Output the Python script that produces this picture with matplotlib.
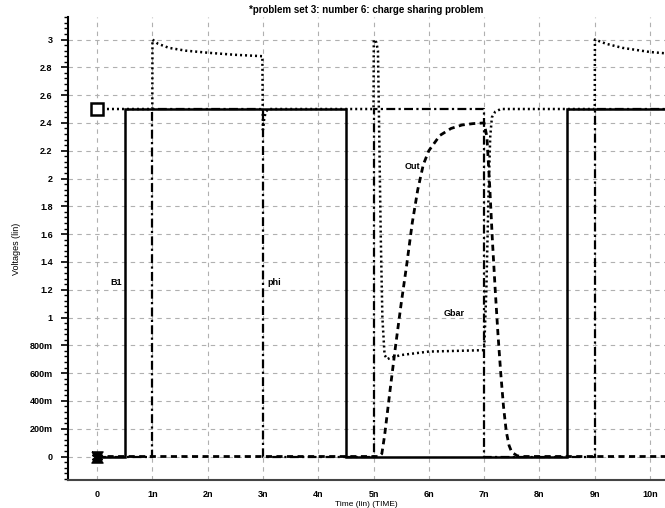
import matplotlib
matplotlib.use('Agg')
import numpy as np
import matplotlib.pyplot as plt
from matplotlib.path import Path
from matplotlib.ticker import MultipleLocator

plt.rcParams['font.family'] = ['Liberation Sans', 'DejaVu Sans']
plt.rcParams['font.weight'] = 'bold'

# transient waveforms, time in ns, voltage in V
t_b1 = [0, 0.5, 0.5, 4.5, 4.5, 8.5, 8.5, 10.3]
v_b1 = [0, 0, 2.5, 2.5, 0, 0, 2.5, 2.5]

t_phi = [0, 1, 1, 3, 3, 5, 5, 7, 7, 9, 9, 10.3]
v_phi = [0, 0, 2.5, 2.5, 0, 0, 2.5, 2.5, 0, 0, 2.5, 2.5]

t_out = [0, 5.1, 5.15, 5.2, 5.3, 5.4, 5.5, 5.6, 5.7, 5.8, 5.9, 6.0, 6.2, 6.4,
         6.6, 6.8, 7.0, 7.05, 7.1, 7.15, 7.2, 7.25, 7.3, 7.35, 7.4, 7.45,
         7.5, 7.6, 7.7, 10.3]
v_out = [0, 0, 0.02, 0.15, 0.48, 0.8, 1.1, 1.38, 1.68, 1.92, 2.1, 2.2, 2.31,
         2.36, 2.385, 2.395, 2.40, 2.3, 1.95, 1.55, 1.2, 0.88, 0.6, 0.36,
         0.18, 0.08, 0.03, 0.005, 0, 0]

t_gbar = [0, 1.0, 1.003, 1.1, 1.3, 1.6, 2.0, 2.5, 2.99, 3.0, 3.02, 3.05, 3.1,
          5.0, 5.005, 5.05, 5.08, 5.1, 5.13, 5.16, 5.2, 5.25, 5.3, 5.5, 6.0,
          6.5, 7.0, 7.04, 7.08, 7.11, 7.14, 7.2, 7.3, 9.0, 9.003, 9.2, 9.5,
          10.0, 10.3]
v_gbar = [2.5, 2.5, 3.0, 2.97, 2.94, 2.92, 2.905, 2.89, 2.88, 2.35, 2.42,
          2.48, 2.5, 2.5, 3.0, 2.98, 2.92, 2.4, 1.6, 1.0, 0.73, 0.70, 0.71,
          0.73, 0.755, 0.76, 0.765, 1.2, 1.9, 2.3, 2.44, 2.48, 2.5, 2.5, 3.0,
          2.97, 2.94, 2.91, 2.9]

x_ticks = list(range(11))
x_labels = ['0'] + ['%dn' % i for i in range(1, 11)]
y_ticks = [round(0.2 * i, 1) for i in range(16)]
y_labels = ['0', '200m', '400m', '600m', '800m', '1', '1.2', '1.4', '1.6',
            '1.8', '2', '2.2', '2.4', '2.6', '2.8', '3']

hourglass = Path([(-1, 1), (1, 1), (-1, -1), (1, -1), (-1, 1)])

fig = plt.figure(figsize=(6.65, 5.08), dpi=100)
ax = fig.add_axes([68 / 665, 28 / 508, 597 / 665, 463 / 508])

ax.plot(t_out, v_out, color='black', lw=2.0, linestyle=(0, (2.2, 1.6)),
        marker=hourglass, markevery=[0], ms=7, mfc='black', mec='black')
ax.plot(t_gbar, v_gbar, color='black', lw=1.8, linestyle=(0, (0.8, 1.2)),
        marker='s', markevery=[0], ms=8, mfc='white', mec='black', mew=1.8)
ax.plot(t_phi, v_phi, color='black', lw=1.6, linestyle=(0, (4, 1.5, 1, 1.5)),
        marker=hourglass, markevery=[0], ms=8, mfc='black', mec='black')
ax.plot(t_b1, v_b1, color='black', lw=1.8, solid_joinstyle='miter',
        marker='X', markevery=[0], ms=7, mfc='black', mec='black')

ax.text(0.34, 1.25, 'B1', fontsize=6.5, ha='center', va='center')
ax.text(3.2, 1.25, 'phi', fontsize=6.5, ha='center', va='center')
ax.text(5.7, 2.09, 'Out', fontsize=6.5, ha='center', va='center')
ax.text(6.45, 1.03, 'Gbar', fontsize=6.5, ha='center', va='center')

ax.set_xlim(-0.524, 10.27)
ax.set_ylim(-0.169, 3.162)
ax.set_xticks(x_ticks)
ax.set_xticklabels(x_labels)
ax.set_yticks(y_ticks)
ax.set_yticklabels(y_labels)
ax.yaxis.set_minor_locator(MultipleLocator(0.04))
ax.tick_params(axis='x', length=0, pad=7, labelsize=6.5)
ax.tick_params(axis='y', which='major', direction='out', length=5, width=1.2,
               labelsize=6.5, pad=6)
ax.tick_params(axis='y', which='minor', direction='out', length=3, width=1.0)

ax.grid(True, which='major', color='#b0b0b0', linestyle=(0, (4, 4)), lw=0.8)
ax.set_axisbelow(True)

ax.spines['top'].set_visible(False)
ax.spines['right'].set_visible(False)
ax.spines['left'].set_linewidth(1.5)
ax.spines['bottom'].set_linewidth(1.5)
ax.spines['bottom'].set_color('#444444')

ax.set_xlabel('Time (lin) (TIME)', fontsize=6, labelpad=0)
ax.xaxis.set_label_coords(0.5, -0.046)
ax.set_ylabel('Voltages (lin)', fontsize=6.5)
ax.yaxis.set_label_coords(-0.078, 0.5)
ax.set_title('*problem set 3: number 6: charge sharing problem', fontsize=7.0,
             fontweight='bold', pad=3)

fig.savefig('out.png', dpi=100)
